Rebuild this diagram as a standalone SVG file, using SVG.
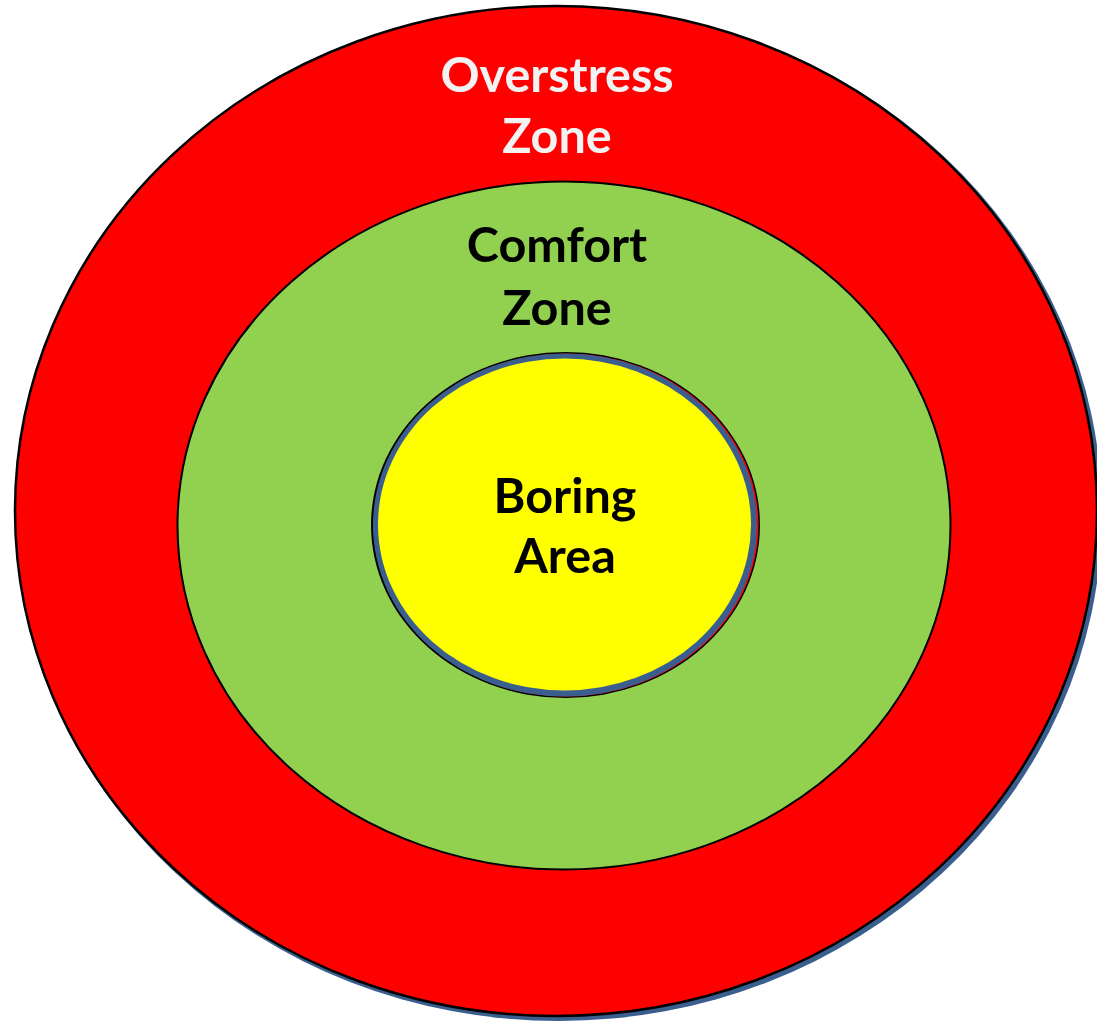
<svg xmlns="http://www.w3.org/2000/svg" width="1097" height="1025" viewBox="0 0 1097 1025">
<style>
.t{font-family:Lato,"Open Sans",sans-serif;font-weight:bold;font-size:48.5px;text-anchor:middle}
</style>
<rect width="1097" height="1025" fill="#fff"/>
<g id="overstress">
<ellipse cx="559" cy="514" rx="543" ry="507" fill="#3a5f8f"/>
<ellipse cx="556" cy="511" rx="541" ry="505" fill="#ff0000" stroke="#000" stroke-width="2.5"/>
<text class="t" x="557" y="92" fill="#f2f2f2">Overstress</text>
<text class="t" x="557" y="153" fill="#f2f2f2">Zone</text>
</g>
<g id="comfort">
<ellipse cx="564" cy="525.5" rx="386.5" ry="344" fill="#92d050" stroke="#000" stroke-width="2"/>
<text class="t" x="557" y="262" fill="#000">Comfort</text>
<text class="t" x="557" y="325" fill="#000">Zone</text>
</g>
<g id="boring">
<ellipse cx="565.5" cy="525" rx="194.5" ry="173" fill="#000"/>
<ellipse cx="566" cy="525" rx="192.5" ry="171.5" fill="#ff0000"/>
<ellipse cx="565" cy="525" rx="192" ry="171.5" fill="#3a5f8f"/>
<ellipse cx="564.5" cy="524.5" rx="186.5" ry="166" fill="#ffff00"/>
<text class="t" x="565" y="513" fill="#000">Boring</text>
<text class="t" x="565" y="573" fill="#000">Area</text>
</g>
<g id="connectors"/>
</svg>
